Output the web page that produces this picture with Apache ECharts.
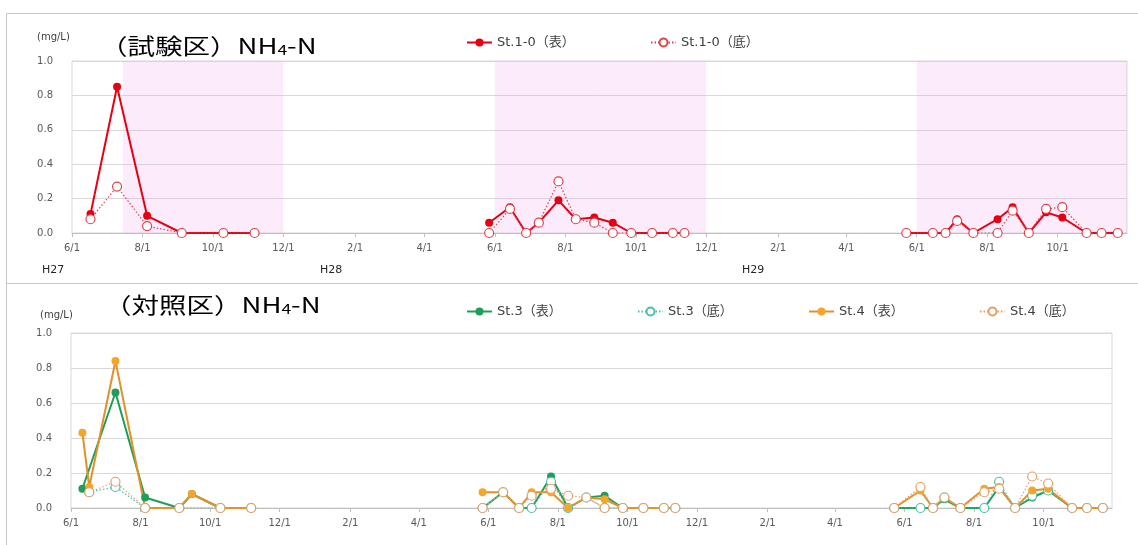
<!DOCTYPE html>
<html>
<head>
<meta charset="utf-8">
<script src="https://cdn.jsdelivr.net/npm/echarts@6/dist/echarts.min.js"></script>
<style>
  html, body { margin: 0; padding: 0; background: #fff; }
  #chart { width: 1138px; height: 545px; }
</style>
</head>
<body>
<div id="chart"></div>
<script>
  // sampling dates (H27 / H28 / H29 seasons)
  const sampleDates = [
    '2015-06-11', '2015-06-17', '2015-07-10', '2015-08-05', '2015-09-04', '2015-09-15', '2015-10-10', '2015-11-06',
    '2016-05-27', '2016-06-14', '2016-06-28', '2016-07-09', '2016-07-26', '2016-08-10', '2016-08-26', '2016-09-11',
    '2016-09-27', '2016-10-15', '2016-11-02', '2016-11-12',
    '2017-05-23', '2017-06-15', '2017-06-26', '2017-07-06', '2017-07-20', '2017-08-10', '2017-08-23', '2017-09-06',
    '2017-09-21', '2017-10-05', '2017-10-26', '2017-11-08', '2017-11-22'
  ];
  // NH4-N (mg/L), null = not sampled
  const st10Surf = [null, 0.11, 0.85, 0.10, 0, null, 0, 0,
    0.06, 0.15, 0, 0.06, 0.19, 0.08, 0.09, 0.06, 0, 0, 0, 0,
    0, 0, 0, 0.08, 0, 0.08, 0.15, 0, 0.12, 0.09, 0, 0, 0];
  const st10Bot = [null, 0.08, 0.27, 0.04, 0, null, 0, 0,
    0, 0.14, 0, 0.06, 0.30, 0.08, 0.06, 0, 0, 0, 0, 0,
    0, 0, 0, 0.07, 0, 0, 0.13, 0, 0.14, 0.15, 0, 0, 0];
  const st3Surf = [0.11, null, 0.66, 0.06, 0, 0.08, 0, 0,
    0, 0.09, 0, 0, 0.18, 0, 0.06, 0.07, 0, 0, 0, 0,
    0, 0, 0, 0.05, 0, 0, 0.12, 0, 0.06, 0.10, 0, 0, 0];
  const st3Bot = [null, 0.09, 0.12, 0, 0, null, 0, 0,
    0, 0.09, 0, 0, 0.15, 0, 0.06, 0, 0, 0, 0, 0,
    0, 0, 0, 0.06, 0, 0, 0.15, 0, 0.07, 0.10, 0, 0, 0];
  const st4Surf = [0.43, 0.12, 0.84, 0, 0, 0.08, 0, 0,
    0.09, 0.09, 0, 0.09, 0.09, 0, 0.06, 0.05, 0, 0, 0, 0,
    0, 0.10, 0, 0.06, 0, 0.11, 0.12, 0, 0.10, 0.11, 0, 0, 0];
  const st4Bot = [null, 0.09, 0.15, 0, 0, null, 0, 0,
    0, 0.09, 0, 0.07, 0.11, 0.07, 0.06, 0, 0, 0, 0, 0,
    0, 0.12, 0, 0.06, 0, 0.09, 0.11, 0, 0.18, 0.14, 0, 0, 0];

  const tickDates = ['2015-06-01', '2015-08-01', '2015-10-01', '2015-12-01', '2016-02-01', '2016-04-01',
    '2016-06-01', '2016-08-01', '2016-10-01', '2016-12-01', '2017-02-01', '2017-04-01',
    '2017-06-01', '2017-08-01', '2017-10-01'];
  const xMin = '2015-06-01';
  const xMax = '2017-11-30';
  const yTicks = [0, 0.2, 0.4, 0.6, 0.8, 1.0];

  // pink shaded periods in the test area
  const shadeStart = ['2015-07-15', '2016-06-01', '2017-06-01'];
  const shadeEnd = ['2015-12-01', '2016-12-01', '2017-11-30'];

  const ts = s => {
    const [y, m, d] = s.split('-').map(Number);
    return new Date(y, m - 1, d).getTime();
  };

  // [time, value] pairs, with a break between seasons
  function toPairs(vals) {
    const out = [];
    let prev = null;
    sampleDates.forEach((d, i) => {
      if (vals[i] === null) return;
      const t = ts(d);
      if (prev !== null && t - prev > 100 * 864e5) out.push([(t + prev) / 2, '-']);
      out.push([t, vals[i]]);
      prev = t;
    });
    return out;
  }

  const font = 'DejaVu Sans, Noto Sans CJK JP, sans-serif';

  function line(name, vals, color, solid, idx, extra) {
    const s = {
      name: name,
      type: 'line',
      xAxisIndex: idx,
      yAxisIndex: idx,
      data: toPairs(vals),
      connectNulls: false,
      symbol: 'circle',
      symbolSize: solid ? 8 : 9,
      lineStyle: solid ? { width: 2, color: color } : { width: 1.2, color: color, type: [1.5, 2] },
      itemStyle: solid ? { color: color } : { color: '#fff', borderColor: color, borderWidth: 1.2 },
      emphasis: { disabled: true }
    };
    return Object.assign(s, extra || {});
  }

  function xAxis(idx) {
    return {
      type: 'value',
      gridIndex: idx,
      min: ts(xMin),
      max: ts(xMax),
      axisLine: { lineStyle: { color: '#bfbfbf' } },
      axisTick: { show: true, length: 4, lineStyle: { color: '#bfbfbf' }, customValues: tickDates.map(ts) },
      axisLabel: {
        customValues: tickDates.map(ts),
        color: '#595959', fontFamily: font, fontSize: 10, margin: 10,
        formatter: v => { const d = new Date(v); return (d.getMonth() + 1) + '/' + d.getDate(); }
      },
      splitLine: { show: false }
    };
  }

  function yAxis(idx) {
    return {
      type: 'value',
      gridIndex: idx,
      min: yTicks[0],
      max: yTicks[yTicks.length - 1],
      interval: 0.2,
      axisLine: { show: false },
      axisTick: { show: false },
      axisLabel: { color: '#595959', fontFamily: font, fontSize: 10, margin: 19, formatter: v => v.toFixed(1) },
      splitLine: { lineStyle: { color: '#d9d9d9' } }
    };
  }

  function legend(name, left, top) {
    return {
      data: [name], left: left, top: top, padding: 0, itemWidth: 25, itemHeight: 10,
      textStyle: { color: '#404040', fontFamily: font, fontSize: 13 }
    };
  }

  const titleRich = {
    a: { fontFamily: 'Noto Sans CJK JP', fontSize: 22, color: '#262626', lineHeight: 30, verticalAlign: 'bottom' },
    s: { fontFamily: 'Noto Sans CJK JP', fontSize: 14, color: '#262626', lineHeight: 12, verticalAlign: 'bottom' }
  };
  function label(text, left, top, size, color) {
    return { type: 'text', left: left, top: top, style: { text: text, font: size + 'px DejaVu Sans', fill: color } };
  }

  const chart = echarts.init(document.getElementById('chart'));
  chart.setOption({
    animation: false,
    backgroundColor: '#fff',
    grid: [
      { left: 72, right: 11, top: 61, height: 172, show: true, borderColor: '#d9d9d9', borderWidth: 1 },
      { left: 71, right: 26, top: 333, height: 175, show: true, borderColor: '#d9d9d9', borderWidth: 1 }
    ],
    xAxis: [xAxis(0), xAxis(1)],
    yAxis: [yAxis(0), yAxis(1)],
    legend: [
      legend('St.1-0（表）', 466, 36),
      legend('St.1-0（底）', 650, 36),
      legend('St.3（表）', 466, 305),
      legend('St.3（底）', 637, 305),
      legend('St.4（表）', 808, 305),
      legend('St.4（底）', 979, 305)
    ],
    graphic: [
      { type: 'rect', shape: { x: 6.5, y: 13.5, width: 1140, height: 270 }, style: { fill: 'none', stroke: '#c8c8c8', lineWidth: 1 } },
      { type: 'rect', shape: { x: 6.5, y: 283.5, width: 1140, height: 300 }, style: { fill: 'none', stroke: '#c8c8c8', lineWidth: 1 } },
      { type: 'text', left: 100, top: 35, scaleX: 1.25, style: { text: '{a|（試験区）NH}{s|4}{a|-N}', rich: titleRich } },
      { type: 'text', left: 104, top: 294, scaleX: 1.25, style: { text: '{a|（対照区）NH}{s|4}{a|-N}', rich: titleRich } },
      label('(mg/L)', 37, 32, 10, '#404040'),
      label('(mg/L)', 40, 310, 10, '#404040'),
      label('H27', 42, 265, 11, '#262626'),
      label('H28', 320, 265, 11, '#262626'),
      label('H29', 742, 265, 11, '#262626')
    ],
    series: [
      line('St.1-0（表）', st10Surf, '#e60012', true, 0, {
        markArea: {
          silent: true,
          itemStyle: { color: 'rgba(240, 170, 235, 0.22)' },
          data: shadeStart.map((s, i) => [{ xAxis: ts(s) }, { xAxis: ts(shadeEnd[i]) }])
        }
      }),
      line('St.1-0（底）', st10Bot, '#e2404a', false, 0),
      line('St.3（表）', st3Surf, '#1f9e5a', true, 1),
      line('St.3（底）', st3Bot, '#4dbfa8', false, 1),
      line('St.4（表）', st4Surf, '#e3902a', true, 1, { itemStyle: { color: '#f4a62a' } }),
      line('St.4（底）', st4Bot, '#e2a06a', false, 1)
    ]
  });
</script>
</body>
</html>
